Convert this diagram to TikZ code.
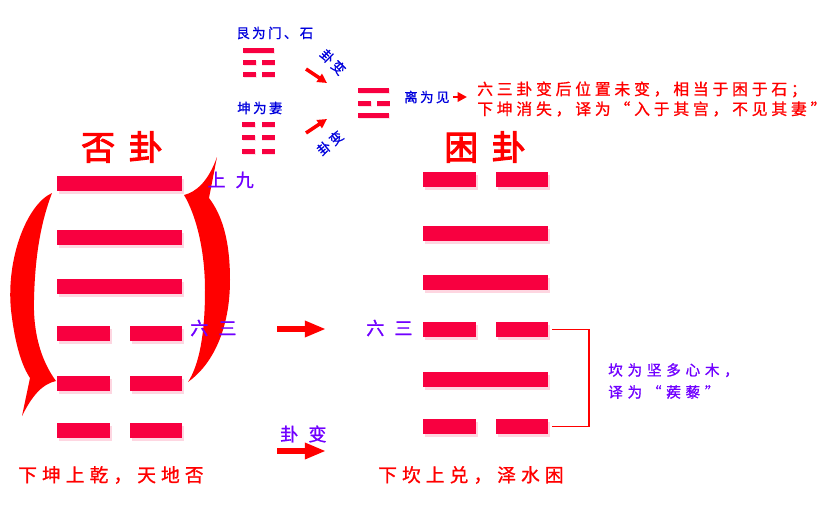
\documentclass[tikz,border=0pt]{standalone}
\usepackage{fontspec}
\usepackage{tikz}
\usetikzlibrary{arrows.meta,shadows,positioning}
\newfontfamily\hei[FakeBold=1]{Noto Sans CJK SC}
\newfontfamily\heibold[FakeBold=3]{Noto Sans CJK SC}
\definecolor{bar}{RGB}{248,0,64}
\definecolor{yaopurple}{RGB}{112,0,255}
\definecolor{triblue}{RGB}{0,0,220}
\tikzset{
  yang/.style={
    rectangle, fill=bar, inner sep=0,
    minimum width=3.75cm, minimum height=0.45cm,
    drop shadow={shadow xshift=0.07cm, shadow yshift=-0.1cm, fill=bar!40, opacity=0.4},
  },
  yin/.style={yang, minimum width=1.575cm},
  minyang/.style={
    rectangle, fill=bar, inner sep=0,
    minimum width=0.93cm, minimum height=0.15cm,
    drop shadow={shadow xshift=0.02cm, shadow yshift=-0.04cm, fill=bar!40, opacity=0.3},
  },
  minyin/.style={minyang, minimum width=0.39cm},
  guatitle/.style={font=\heibold\addfontfeature{LetterSpace=40}\fontsize{29}{29}\selectfont, text=red, anchor=west, inner sep=0},
  yao/.style={font=\hei\addfontfeature{LetterSpace=55}\fontsize{15.5}{15.5}\selectfont, text=yaopurple, anchor=west, inner sep=0},
  trilabel/.style={font=\hei\addfontfeature{LetterSpace=18}\fontsize{11.5}{11.5}\selectfont, text=triblue, anchor=west, inner sep=0},
  note/.style={font=\hei\addfontfeature{LetterSpace=27}\fontsize{16}{16}\selectfont, text=red, anchor=west, inner sep=0},
  line/.style={draw=red, line width=5pt, -{Triangle[length=18pt, width=13pt]}},
  minline/.style={draw=red, line width=3pt, -{Triangle[length=8pt, width=8pt]}},
  bracket/.style={draw=red, line width=1.3pt},
}
\begin{document}
\begin{tikzpicture}[x=0.03cm, y=-0.03cm]
\useasboundingbox (0,0) rectangle (834,506);

% trigrams above
\node [minyang] (gen1) at (258.5,50.5) {};
\node [minyin] (genl2) at (249.5,62.5) {};
\node [minyin] (genr2) at (268,62.5) {};
\node [minyin] (genl3) at (249.5,74.5) {};
\node [minyin] (genr3) at (268,74.5) {};
\foreach \n/\y in {1/124.5,2/137.5,3/151}{
  \node [minyin] (dil\n) at (248.5,\y) {};
  \node [minyin] (dir\n) at (268,\y) {};
}
\node [minyang] (li1) at (373.5,90.5) {};
\node [minyin] (lil2) at (364.5,103.5) {};
\node [minyin] (lir2) at (383,103.5) {};
\node [minyang] (li3) at (373.5,115.5) {};
\node [trilabel] (gent) at (236,33) {艮为门、石};
\node [trilabel] (dit) at (237,108) {坤为妻};
\node [trilabel] (lit) at (404,97) {离为见};
\node [trilabel, rotate=-45, anchor=center] (bian1) at (333,62) {卦变};
\node [trilabel, rotate=40, anchor=center] (bian2) at (330,143) {卦变};
\coordinate (ga) at (306,69);
\coordinate (gb) at (327,83);
\coordinate (da) at (306,133);
\coordinate (db) at (327,119);
\coordinate (la) at (453,97);
\coordinate (lb) at (467,97);
\path [minline] (ga) -- (gb);
\path [minline] (da) -- (db);
\path [minline, line width=2.5pt] (la) -- (lb);
\node [note, font=\hei\addfontfeature{LetterSpace=24}\fontsize{13.5}{17}\selectfont, align=left] (expl) at (477,99)
  {六三卦变后位置未变，相当于困于石；\\下坤消失，译为“入于其宫，不见其妻”};

% pi
\node [guatitle] (pit) at (81,147) {否卦};
\foreach \n/\y in {1/183.5,2/237.5,3/286.5}
  \node [yang] (pi\n) at (119.5,\y) {};
\foreach \n/\y in {4/333.5,5/383.5,6/430.5}{
  \node [yin] (pil\n) at (83.25,\y) {};
  \node [yin] (pir\n) at (155.75,\y) {};
}
\fill [red] (52,193) .. controls (26,205) and (6,260) .. (11,310)
  .. controls (15,345) and (22,366) .. (30,378) -- (22,416)
  .. controls (32,396) and (42,384) .. (56,381)
  .. controls (42,362) and (33,335) .. (34,300)
  .. controls (35,255) and (41,222) .. (52,193) -- cycle;
\fill [red] (188,382) .. controls (212,365) and (230,330) .. (230,280)
  .. controls (230,240) and (222,215) .. (209,198) -- (217,157)
  .. controls (208,182) and (196,192) .. (184,195)
  .. controls (196,215) and (205,250) .. (205,290)
  .. controls (205,335) and (199,365) .. (188,382) -- cycle;
\node [yao, right=0.75cm of pi1, yshift=3pt] (shangjiu) {上九};
\node [yao] (liusanl) at (190,328) {六三};
\node [note] (pix) at (18,475) {下坤上乾，天地否};

% kun
\node [guatitle] (kunt) at (444,147) {困卦};
\foreach \n/\y in {2/233.5,3/282.5,5/379.5}
  \node [yang] (kun\n) at (485.5,\y) {};
\foreach \n/\y in {1/179.5,4/329.5,6/426.5}{
  \node [yin] (kunl\n) at (449.25,\y) {};
  \node [yin] (kunr\n) at (521.75,\y) {};
}
\node [yao] (liusanr) at (366,328) {六三};
\node [note] (kunx) at (378,475) {下坎上兑，泽水困};
\path [bracket] ([xshift=0.12cm]kunr4.east) -- ++(37,0) |- ([xshift=0.12cm]kunr6.east);
\node [yao, font=\hei\addfontfeature{LetterSpace=32}\fontsize{12.5}{18.8}\selectfont, align=left] (kan) at (608,381)
  {坎为坚多心木，\\译为“蒺藜”};

% change
\coordinate (ya) at (277,329);
\coordinate (yb) at (326,329);
\coordinate (gbl) at (277,451);
\coordinate (gbr) at (326,451);
\path [line] (ya) -- (yb);
\path [line] (gbl) -- (gbr);
\node [yao] (guabian) at (280,434) {卦变};
\end{tikzpicture}
\end{document}
